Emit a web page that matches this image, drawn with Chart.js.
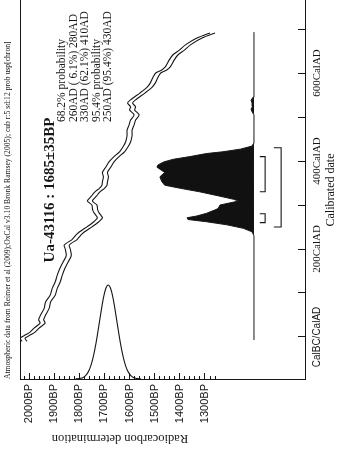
<!DOCTYPE html>
<html><head><meta charset="utf-8">
<script src="https://cdn.jsdelivr.net/npm/chart.js@4.4.1/dist/chart.umd.min.js"></script>
<style>html,body{margin:0;padding:0;background:#fff;overflow:hidden}#wrap{width:343px;height:459px}</style>
</head><body><div id="wrap"><canvas id="c" width="343" height="459"></canvas></div>
<script>
// ---------- data ----------
const curveDates = [-10,-3,5,11,20,32,39,50,65,80,95,110,125,140,155,170,185,200,209,222,235,247,255,262,271,281,289,300,309,320,330,338,345,353,364,374,386,398,410,421,434,445,458,470,482,493,505,516,523,532,539,555,568,577,589,600,607,614,630,641,652,664,680,691];
const curveBP    = [2018,2026,2004,1986,1970,1946,1952,1944,1930,1924,1906,1898,1886,1878,1868,1855,1842,1846,1850,1818,1798,1768,1748,1732,1718,1730,1737,1740,1758,1742,1728,1710,1700,1698,1694,1698,1685,1672,1652,1630,1614,1605,1600,1600,1592,1586,1572,1590,1586,1598,1586,1548,1520,1508,1498,1486,1462,1448,1432,1418,1392,1368,1320,1270];
const curveSigma = 10;
const histDates = [-7,230,239,247,255,262,267,271,275,281,289,292,300,309,313,320,330,338,345,353,364,374,386,391,398,404,410,417,421,427,434,440,450,505,512,518,524,532,538,545,552,693];
const histProb  = [0,0,0.02,0.11,0.28,0.49,0.68,0.69,0.59,0.49,0.40,0.37,0.35,0.16,0.21,0.35,0.56,0.76,0.92,0.95,0.97,0.92,1.0,0.99,0.93,0.83,0.66,0.49,0.32,0.14,0.02,0.005,0,0,0.02,0.03,0.015,0.02,0.03,0.01,0,0];
const gaussBP   = [1555,1565,1575,1585,1595,1605,1615,1625,1635,1645,1655,1665,1675,1685,1695,1705,1715,1725,1735,1745,1755,1765,1775,1785,1795,1805,1815];
const gaussProb = [0.001,0.003,0.007,0.017,0.037,0.073,0.135,0.23,0.36,0.52,0.69,0.85,0.96,1.0,0.96,0.85,0.69,0.52,0.36,0.23,0.135,0.073,0.037,0.017,0.007,0.003,0.001];
const range68 = [[260,280],[330,410]];
const range95 = [[250,430]];
const bpMajorTicks = [2000,1900,1800,1700,1600,1500,1400,1300];
const bpMinorTicks = [2020,1980,1960,1940,1920,1880,1860,1840,1820,1780,1760,1740,1720,1680,1660,1640,1620,1580,1560,1540,1520,1480,1460,1440,1420,1380,1360,1340,1320,1280,1260];
const dateTicks = [0,100,200,300,400,500,600,700];
const dateLabels = {0:'CalBC/CalAD',200:'200CalAD',400:'400CalAD',600:'600CalAD'};
const titleText = 'Ua-43116 : 1685\u00B135BP';
const probLines = ['68.2% probability','260AD ( 6.1%) 280AD','330AD (62.1%) 410AD','95.4% probability','250AD (95.4%) 430AD'];
const sourceText = 'Atmospheric data from Reimer et al (2009);OxCal v3.10 Bronk Ramsey (2005); cub r:5 sd:12 prob usp[chron]';
const xAxisTitle = 'Calibrated date';
const yAxisTitle = 'Radiocarbon determination';

// ---------- style ----------
const INK = '#161616';
const SERIF = 'Liberation Serif';
const SANS = 'Liberation Sans';

const lower = curveDates.map((d,i)=>({x: curveBP[i]-curveSigma, y: d}));
const upper = curveDates.map((d,i)=>({x: curveBP[i]+curveSigma, y: d}));
const hist = histDates.map((d,i)=>({x: histProb[i], y: d}));
const gauss = gaussBP.map((b,i)=>({x: b, y: gaussProb[i]}));
function bracket(r, bar, tip){ return [{x:tip,y:r[0]},{x:bar,y:r[0]},{x:bar,y:r[1]},{x:tip,y:r[1]}]; }

const lineDs = (data, extra) => Object.assign({data, showLine:true, pointRadius:0, borderColor:INK, borderWidth:1.1, fill:false, tension:0}, extra);
const datasets = [
  lineDs(lower, {xAxisID:'x', yAxisID:'y', tension:0.25}),
  lineDs(upper, {xAxisID:'x', yAxisID:'y', tension:0.25}),
  lineDs(hist, {xAxisID:'x2', yAxisID:'y', indexAxis:'y', fill:'origin', backgroundColor:'#111', borderWidth:1}),
  lineDs(gauss, {xAxisID:'x', yAxisID:'y2', tension:0.35}),
];
range68.forEach(r=>datasets.push(lineDs(bracket(r,-0.115,-0.06), {xAxisID:'x2', yAxisID:'y'})));
range95.forEach(r=>datasets.push(lineDs(bracket(r,-0.28,-0.205), {xAxisID:'x2', yAxisID:'y'})));

// padding for centred rotated date labels
const mc = document.createElement('canvas').getContext('2d');
let widest = 0;
dateTicks.forEach(v=>{ const t = dateLabels[v]||''; mc.font = (v===0? '10px '+SANS : '11px '+SERIF); widest = Math.max(widest, mc.measureText(t).width); });
const DATE_LABEL_CX = 317, AXIS_R = 305, DATE_TL = 7;
const datePad = (DATE_LABEL_CX - AXIS_R) + DATE_TL - widest/2;

const textPlugin = {
  id:'texts',
  afterDraw(chart){
    const ctx = chart.ctx;
    const put = (text, x, y, ang, font, align) => { ctx.save(); ctx.translate(x,y); ctx.rotate(ang); ctx.font = font; ctx.fillStyle = INK; ctx.textAlign = align; ctx.textBaseline = 'middle'; ctx.fillText(text,0,0); ctx.restore(); };
    const ca = chart.chartArea;
    // frame left edge
    ctx.save(); ctx.strokeStyle = INK; ctx.lineWidth = 1; ctx.beginPath(); ctx.moveTo(ca.left+0.5, ca.top); ctx.lineTo(ca.left+0.5, ca.bottom); ctx.stroke(); ctx.restore();
    ctx.font = '10px '+SERIF; const sw = ctx.measureText(sourceText).width;
    put(sourceText, 8, ca.bottom, -Math.PI/2, (10*338/sw).toFixed(2)+'px '+SERIF, 'left');
    put(titleText, 50, 190, -Math.PI/2, 'bold 15px '+SERIF, 'center');
    const px = [62,73.5,85,96.5,108];
    probLines.forEach((t,i)=>put(t, px[i], 122, -Math.PI/2, '11.5px '+SERIF, 'left'));
    put(xAxisTitle, 331, 190, -Math.PI/2, '12px '+SERIF, 'center');
    put(yAxisTitle, 120, 438, Math.PI, '12.5px '+SERIF, 'center');
  }
};

new Chart(document.getElementById('c'), {
  type:'scatter',
  data:{datasets},
  plugins:[textPlugin],
  options:{
    responsive:false, animation:false, devicePixelRatio:1,
    layout:{padding:{left:20, top:0, right:0, bottom:0}},
    plugins:{legend:{display:false}, tooltip:{enabled:false}},
    scales:{
      xm:{type:'linear', position:'bottom', weight:-1, reverse:true, min:902, max:2036,
          afterBuildTicks:s=>{ s.ticks = bpMinorTicks.map(v=>({value:v})); },
          ticks:{display:false}, grid:{drawOnChartArea:false, tickLength:-3, color:INK, lineWidth:1},
          border:{display:false}, afterFit:s=>{ s.height = 0; }},
      x:{type:'linear', position:'bottom', weight:0, reverse:true, min:902, max:2036,
         afterBuildTicks:s=>{ s.ticks = bpMajorTicks.map(v=>({value:v})); },
         ticks:{autoSkip:false, minRotation:90, maxRotation:90, padding:11, color:INK, font:{family:SANS, size:11}, callback:v=>v+'BP'},
         grid:{drawOnChartArea:false, tickLength:-6, color:INK, lineWidth:1},
         border:{display:true, color:INK, width:1},
         afterFit:s=>{ s.height = 80; }},
      y:{type:'linear', position:'right', min:-95.5, max:766,
         afterBuildTicks:s=>{ s.ticks = dateTicks.map(v=>({value:v})); },
         ticks:{autoSkip:false, minRotation:90, maxRotation:90, crossAlign:'center', padding:datePad, color:INK,
                font:c=> (c.tick && c.tick.value===0) ? {family:SANS, size:10} : {family:SERIF, size:11},
                callback:v=>dateLabels[v]||''},
         grid:{drawOnChartArea:false, tickLength:-DATE_TL, color:INK, lineWidth:1},
         border:{display:true, color:INK, width:1},
         afterFit:s=>{ s.width = 38; }},
      x2:{type:'linear', display:false, reverse:true, min:-0.526, max:2.412},
      y2:{type:'linear', display:false, min:0, max:4.03}
    }
  }
});
</script>
</body></html>
